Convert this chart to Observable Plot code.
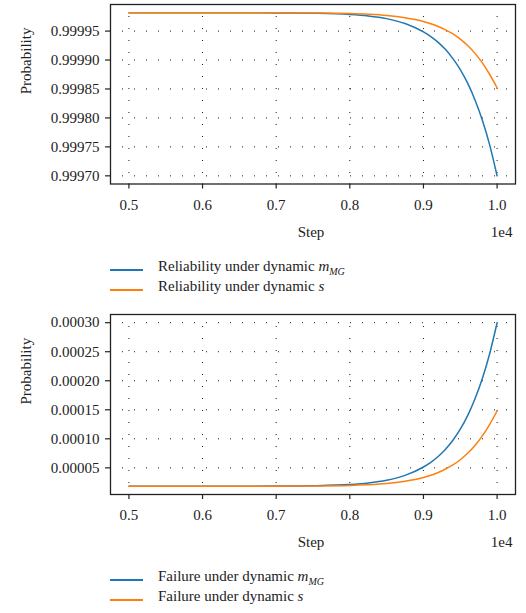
<!DOCTYPE html>
<html>
<head>
<meta charset="utf-8">
<script src="https://cdn.jsdelivr.net/npm/d3@7"></script>
<script src="https://cdn.jsdelivr.net/npm/@observablehq/plot@0.6"></script>
<style>
  body { margin: 0; background: #fff; }
  #wrap { position: relative; width: 526px; height: 613px; font-family: "Liberation Serif", "DejaVu Serif", serif; color: #222; overflow: hidden; }
  .panel { position: absolute; left: 0; width: 526px; }
  .row { position: absolute; left: 110px; white-space: nowrap; height: 20px; line-height: 20px; font-size: 15px; }
  .sw { position: absolute; left: 0; width: 33px; height: 2px; }
  .lbl { position: absolute; left: 48px; top: 0; }
  .lbl sub { font-size: 10px; font-style: italic; line-height: 0; vertical-align: -4px; }
</style>
</head>
<body>
<div id="wrap"></div>
<script>
// ---- data ----
const steps = [5000, 5500, 6000, 6500, 7000, 7500, 8000, 8250, 8500, 8750, 9000,
               9100, 9200, 9300, 9400, 9500, 9600, 9700, 9800, 9900, 10000];

const reliabilityMMG = [0.9999818, 0.9999817, 0.9999817, 0.9999816, 0.9999814, 0.9999808, 0.9999788,
  0.9999762, 0.9999715, 0.9999630, 0.9999485, 0.9999405, 0.9999305, 0.9999180, 0.9999025,
  0.9998835, 0.9998600, 0.9998310, 0.9997960, 0.9997530, 0.9997000];
const reliabilityS = [0.9999818, 0.9999817, 0.9999817, 0.9999816, 0.9999815, 0.9999812, 0.9999803,
  0.9999791, 0.9999770, 0.9999730, 0.9999665, 0.9999628, 0.9999580, 0.9999520, 0.9999450,
  0.9999360, 0.9999250, 0.9999115, 0.9998950, 0.9998750, 0.9998520];

const failureMMG = [0.0000182, 0.0000183, 0.0000183, 0.0000184, 0.0000186, 0.0000192, 0.0000212,
  0.0000238, 0.0000285, 0.0000370, 0.0000515, 0.0000595, 0.0000695, 0.0000820, 0.0000975,
  0.0001165, 0.0001400, 0.0001690, 0.0002040, 0.0002470, 0.0003000];
const failureS = [0.0000182, 0.0000183, 0.0000183, 0.0000184, 0.0000185, 0.0000188, 0.0000197,
  0.0000209, 0.0000230, 0.0000270, 0.0000335, 0.0000372, 0.0000420, 0.0000480, 0.0000550,
  0.0000640, 0.0000750, 0.0000885, 0.0001050, 0.0001250, 0.0001480];

const xTicks = [5000, 6000, 7000, 8000, 9000, 10000];
const xTickLabels = ["0.5", "0.6", "0.7", "0.8", "0.9", "1.0"];
const yTicksTop = [0.99970, 0.99975, 0.99980, 0.99985, 0.99990, 0.99995];
const yTickLabelsTop = ["0.99970", "0.99975", "0.99980", "0.99985", "0.99990", "0.99995"];
const yTicksBottom = [0.00005, 0.00010, 0.00015, 0.00020, 0.00025, 0.00030];
const yTickLabelsBottom = ["0.00005", "0.00010", "0.00015", "0.00020", "0.00025", "0.00030"];

const colors = ["#1f77b4", "#ff7f0e"];

// ---- drawing ----
function rows(names, series) {
  const out = [];
  names.forEach((name, k) => steps.forEach((s, i) => out.push({step: s, value: series[k][i], series: name})));
  return out;
}

function panel(cfg) {
  const xMap = new Map(xTicks.map((t, i) => [t, xTickLabels[i]]));
  const yMap = new Map(cfg.yTicks.map((t, i) => [t, cfg.yLabels[i]]));
  const grid = {stroke: "#000", strokeOpacity: 0.9, strokeWidth: 1, strokeDasharray: "1,11"};
  return Plot.plot({
    width: 526, height: 250,
    marginTop: 4, marginBottom: cfg.mb, marginLeft: 110, marginRight: 11,
    style: {fontFamily: "Liberation Serif, DejaVu Serif, serif", fontSize: "15px", color: "#222", background: "transparent"},
    x: {domain: [4750, 10250]},
    y: {domain: cfg.yDomain},
    color: {domain: cfg.names, range: colors},
    marks: [
      Plot.gridX(xTicks, grid),
      Plot.gridY(cfg.yTicks, grid),
      Plot.line(cfg.data, {x: "step", y: "value", stroke: "series", curve: "monotone-x", strokeWidth: 1.5}),
      Plot.frame({stroke: "#222", strokeWidth: 1.3}),
      Plot.axisX(xTicks, {tickSize: 5, tickPadding: 10, tickFormat: d => xMap.get(d), label: null, stroke: "#222", strokeWidth: 1.2}),
      Plot.axisY(cfg.yTicks, {tickSize: 5, tickPadding: 6, tickFormat: d => yMap.get(d), label: null, stroke: "#222", strokeWidth: 1.2}),
      Plot.text(["Step"], {frameAnchor: "bottom", dx: -2, dy: 42, lineAnchor: "top", text: d => d}),
      Plot.text(["1e4"], {frameAnchor: "bottom-right", dx: -3, dy: 42, lineAnchor: "top", textAnchor: "end", text: d => d}),
      Plot.text(["Probability"], {frameAnchor: "left", dx: -84, rotate: -90, text: d => d})
    ]
  });
}

const wrap = document.getElementById("wrap");

function addPanel(top, svg) {
  const d = document.createElement("div");
  d.className = "panel";
  d.style.top = top + "px";
  d.appendChild(svg);
  wrap.appendChild(d);
}

function addLegend(items, tops, swOffsets) {
  items.forEach((html, i) => {
    const r = document.createElement("div");
    r.className = "row";
    r.style.top = tops[i] + "px";
    r.innerHTML = `<div class="sw" style="background:${colors[i]};top:${swOffsets[i]}px"></div><div class="lbl">${html}</div>`;
    wrap.appendChild(r);
  });
}

const topNames = ["Reliability under dynamic m_MG", "Reliability under dynamic s"];
addPanel(0, panel({
  mb: 66.5,
  yDomain: [0.9996859, 0.9999959],
  yTicks: yTicksTop, yLabels: yTickLabelsTop,
  names: topNames,
  data: rows(topNames, [reliabilityMMG, reliabilityS])
}));
addLegend([
  'Reliability under dynamic <i>m</i><sub>MG</sub>',
  'Reliability under dynamic <i>s</i>'
], [256, 276], [13, 13]);

const botNames = ["Failure under dynamic m_MG", "Failure under dynamic s"];
addPanel(310, panel({
  mb: 66,
  yDomain: [0.0000041, 0.0003141],
  yTicks: yTicksBottom, yLabels: yTickLabelsBottom,
  names: botNames,
  data: rows(botNames, [failureMMG, failureS])
}));
addLegend([
  'Failure under dynamic <i>m</i><sub>MG</sub>',
  'Failure under dynamic <i>s</i>'
], [566, 586], [12.5, 12.5]);
</script>
</body>
</html>
